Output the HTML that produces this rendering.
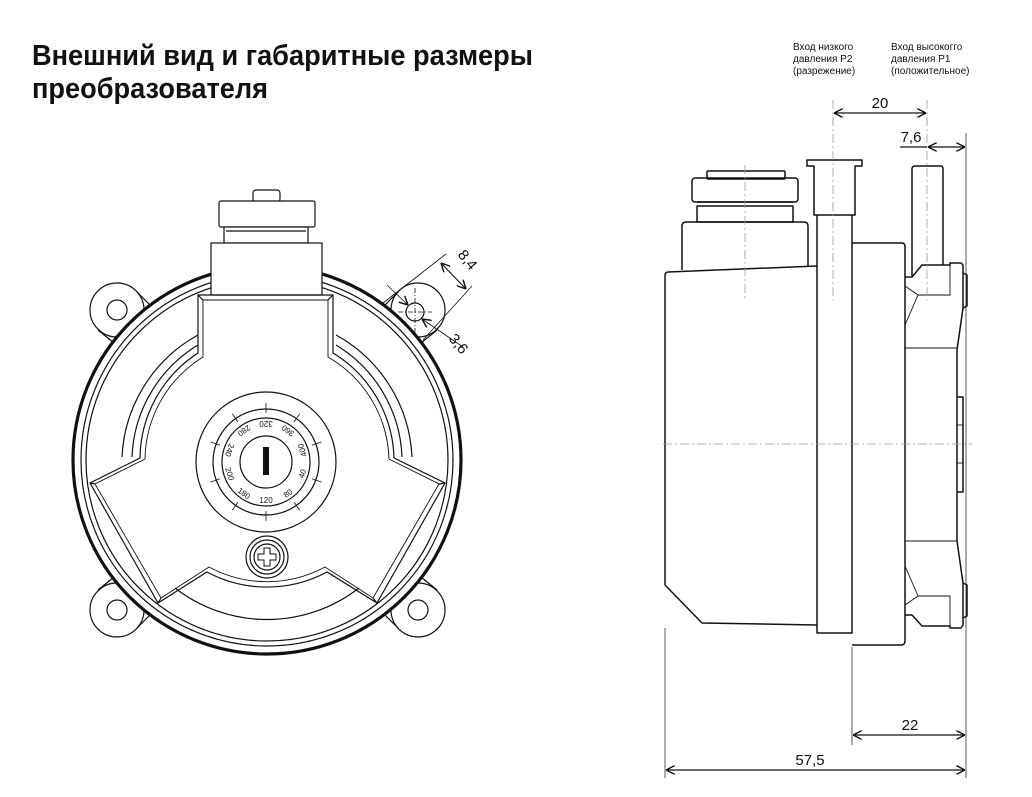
<!DOCTYPE html>
<html><head><meta charset="utf-8"><style>
html,body{margin:0;padding:0;background:#fff}
svg{display:block}
text{font-family:"Liberation Sans",sans-serif;fill:#111}
</style></head><body>
<svg width="1032" height="797" viewBox="0 0 1032 797" xmlns="http://www.w3.org/2000/svg">
<defs>
<marker id="a" viewBox="0 0 10 10" refX="10" refY="5" markerWidth="9" markerHeight="9" orient="auto-start-reverse" markerUnits="userSpaceOnUse"><path d="M0,0 L10,5 L0,10" fill="none" stroke="#111" stroke-width="1.6"/></marker>
</defs>
<text x="32" y="65" font-family="Liberation Sans Narrow, Liberation Sans, sans-serif" font-weight="bold" font-size="29" textLength="501" lengthAdjust="spacingAndGlyphs">Внешний вид и габаритные размеры</text>
<text x="32" y="98" font-family="Liberation Sans Narrow, Liberation Sans, sans-serif" font-weight="bold" font-size="29" textLength="236" lengthAdjust="spacingAndGlyphs">преобразователя</text>

<g font-size="10">
<text x="793" y="50">Вход низкого</text>
<text x="793" y="62">давления P2</text>
<text x="793" y="74">(разрежение)</text>
<text x="891" y="50">Вход высокогго</text>
<text x="891" y="62">давления P1</text>
<text x="891" y="74">(положительное)</text>
</g>

<g fill="none" stroke="#111" stroke-width="1.2">
<g fill="#fff">
<circle cx="117" cy="310" r="27"/><circle cx="418" cy="310" r="27"/>
<circle cx="117" cy="610" r="27"/><circle cx="418" cy="610" r="27"/>
</g>
<path d="M98,330 L135,360 M137,292 L165,320"/>
<path d="M437,330 L400,360 M398,292 L370,320"/>
<path d="M98,590 L135,560 M137,628 L165,600"/>
<path d="M437,590 L400,560 M398,628 L370,600"/>
<circle cx="117" cy="310" r="10"/><circle cx="415" cy="312" r="9"/>
<circle cx="117" cy="610" r="10"/><circle cx="418" cy="610" r="10"/>
<circle cx="267" cy="460" r="194" stroke-width="3.2" fill="#fff"/>
<circle cx="267" cy="460" r="186"/>
<circle cx="267" cy="460" r="181"/>
<rect x="253" y="190" width="27" height="12" rx="3" fill="#fff"/>
<rect x="219" y="201" width="96" height="26" rx="2" fill="#fff"/>
<rect x="224" y="227" width="84" height="16" fill="#fff"/>
<line x1="226" y1="231" x2="306" y2="231"/>
<rect x="211" y="243" width="111" height="52" fill="#fff"/>
<path d="M198,335 A147,147 0 0 0 122,457"/>
<path d="M198,345 A137,137 0 0 0 132,457"/>
<path d="M336,335 A147,147 0 0 1 412,457"/>
<path d="M336,345 A137,137 0 0 1 402,457"/>
<path d="M175,588 A150,150 0 0 0 359,588"/>
<path d="M198,295 L333,295 L333,353 A127,127 0 0 1 394,458 L445,483 L377,603 L327,572 A127,127 0 0 1 207,572 L158,603 L90,483 L140,458 A127,127 0 0 1 198,353 Z"/>
<path d="M203,300 L328,300 L328,357 A122,122 0 0 1 389,459 L439,484 L373,598 L325,567 A122,122 0 0 1 209,567 L161,598 L95,484 L145,459 A122,122 0 0 1 203,357 Z" stroke-width="0.9"/>
<line x1="198" y1="295" x2="203" y2="300"/><line x1="333" y1="295" x2="328" y2="300"/>
<line x1="90" y1="483" x2="95" y2="484"/><line x1="445" y1="483" x2="439" y2="484"/>
<line x1="158" y1="603" x2="161" y2="598"/><line x1="377" y1="603" x2="373" y2="598"/>
<circle cx="266" cy="462" r="70" fill="#fff"/>
<circle cx="266" cy="462" r="53"/>
<circle cx="266" cy="462" r="44"/>
<circle cx="266" cy="462" r="26"/>
<rect x="263" y="447" width="6" height="28" fill="#111" stroke="none"/>
<circle cx="267" cy="557" r="21" fill="#fff"/><circle cx="267" cy="557" r="17"/><circle cx="267" cy="557" r="13"/>
<path d="M264,548 h6 v6 h6 v6 h-6 v6 h-6 v-6 h-6 v-6 h6 Z" stroke-width="1"/>
</g>
<g stroke="#111" stroke-width="0.8">
<g transform="rotate(0 266 462)"><line x1="266" y1="511" x2="266" y2="521"/></g>
<g transform="rotate(35 266 462)"><line x1="266" y1="511" x2="266" y2="521"/></g>
<g transform="rotate(70 266 462)"><line x1="266" y1="511" x2="266" y2="521"/></g>
<g transform="rotate(110 266 462)"><line x1="266" y1="511" x2="266" y2="521"/></g>
<g transform="rotate(145 266 462)"><line x1="266" y1="511" x2="266" y2="521"/></g>
<g transform="rotate(180 266 462)"><line x1="266" y1="511" x2="266" y2="521"/></g>
<g transform="rotate(-35 266 462)"><line x1="266" y1="511" x2="266" y2="521"/></g>
<g transform="rotate(-70 266 462)"><line x1="266" y1="511" x2="266" y2="521"/></g>
<g transform="rotate(-110 266 462)"><line x1="266" y1="511" x2="266" y2="521"/></g>
<g transform="rotate(-145 266 462)"><line x1="266" y1="511" x2="266" y2="521"/></g>
</g>
<g font-size="8" text-anchor="middle">
<text x="266" y="503" transform="rotate(0 266 462)">120</text>
<text x="266" y="503" transform="rotate(35 266 462)">180</text>
<text x="266" y="503" transform="rotate(72 266 462)">200</text>
<text x="266" y="503" transform="rotate(108 266 462)">240</text>
<text x="266" y="503" transform="rotate(145 266 462)">280</text>
<text x="266" y="503" transform="rotate(180 266 462)">320</text>
<text x="266" y="503" transform="rotate(-145 266 462)">360</text>
<text x="266" y="503" transform="rotate(-108 266 462)">400</text>
<text x="266" y="503" transform="rotate(-72 266 462)">40</text>
<text x="266" y="503" transform="rotate(-35 266 462)">80</text>
</g>
<g stroke="#111" stroke-width="0.8" fill="none">
<line x1="398" y1="312" x2="432" y2="312" stroke-dasharray="5,2,1,2"/>
<line x1="415" y1="288" x2="415" y2="332" stroke-dasharray="5,2,1,2"/>
<line x1="383" y1="303" x2="446" y2="254"/>
<line x1="423" y1="340" x2="472" y2="286"/>
<line x1="441" y1="263" x2="466" y2="289" marker-start="url(#a)" marker-end="url(#a)" stroke-width="1.1"/>
<line x1="387" y1="285" x2="408" y2="305" marker-end="url(#a)"/>
<line x1="422" y1="319" x2="463" y2="347" marker-start="url(#a)"/>
</g>
<text x="457" y="255" font-size="15" transform="rotate(50 457 255)">8,4</text>
<text x="448" y="339" font-size="15" transform="rotate(50 448 339)">3,6</text>

<g fill="none" stroke="#111" stroke-width="1.5" stroke-linejoin="round">
<rect x="707" y="171" width="78" height="8" rx="1"/>
<rect x="692" y="178" width="106" height="24" rx="3"/>
<rect x="697" y="206" width="96" height="16"/>
<line x1="697" y1="202" x2="793" y2="202"/>
<path d="M682,270 L682,226 Q682,222 686,222 L804,222 Q808,222 808,226 L808,267"/>
<path d="M817,266 L668,272 Q665,272 665,276 L665,585 L702,623 L817,625"/>
<path d="M817,215 L817,633 L852,633 L852,215"/>
<path d="M807,160 L862,160 L862,166 L855,166 L855,215 L814,215 L814,166 L807,166 Z"/>
<path d="M852,243 L902,243 Q905,243 905,247 L905,641 Q905,645 901,645 L852,645"/>
<path d="M912,276 L912,169 Q912,166 915,166 L941,166 Q943,166 943,169 L943,265"/>
<path d="M905,277 L912,277 L922,265 L950,265 L950,263 L961,263 L963,265 L963,308 L957,350 L957,541 L963,583 L963,625 L961,628 L950,628 L950,626 L922,626 L912,615 L905,615"/>
<path d="M963,273 L967,275 L967,306 L963,308"/>
<path d="M963,583 L967,585 L967,616 L963,618"/>
<path d="M957,397 L963,397 L963,492 L957,492"/>
</g>
<g fill="none" stroke="#111" stroke-width="0.9">
<path d="M905,286 L918,295 L950,295 L950,265"/>
<path d="M905,325 L918,295"/>
<path d="M905,605 L918,596 L950,596 L950,626"/>
<path d="M905,566 L918,596"/>
<line x1="905" y1="348" x2="957" y2="348"/>
<line x1="905" y1="541" x2="957" y2="541"/>
<line x1="957" y1="425" x2="963" y2="425"/>
<line x1="957" y1="463" x2="963" y2="463"/>
</g>
<g stroke="#999" stroke-width="0.8" stroke-dasharray="9,3,2,3" fill="none">
<line x1="663" y1="444" x2="972" y2="444"/>
<line x1="745" y1="165" x2="745" y2="300"/>
<line x1="833" y1="100" x2="833" y2="300"/>
<line x1="927" y1="100" x2="927" y2="300"/>
</g>
<g stroke="#111" stroke-width="0.9" fill="none">
<line x1="966" y1="133" x2="966" y2="778" stroke-width="0.7"/>
<line x1="665" y1="628" x2="665" y2="778" stroke-width="0.7"/>
<line x1="852" y1="647" x2="852" y2="745" stroke-width="0.7"/>
<line x1="834" y1="113" x2="926" y2="113" marker-start="url(#a)" marker-end="url(#a)" stroke-width="1.2"/>
<line x1="900" y1="147" x2="927" y2="147" stroke-width="1.2"/>
<line x1="928" y1="147" x2="965" y2="147" marker-start="url(#a)" marker-end="url(#a)" stroke-width="1.2"/>
<line x1="853" y1="735" x2="965" y2="735" marker-start="url(#a)" marker-end="url(#a)" stroke-width="1.2"/>
<line x1="666" y1="770" x2="965" y2="770" marker-start="url(#a)" marker-end="url(#a)" stroke-width="1.2"/>
</g>
<g font-size="15" text-anchor="middle">
<text x="880" y="108">20</text>
<text x="911" y="142">7,6</text>
<text x="910" y="730">22</text>
<text x="810" y="765">57,5</text>
</g>
</svg>
</body></html>
